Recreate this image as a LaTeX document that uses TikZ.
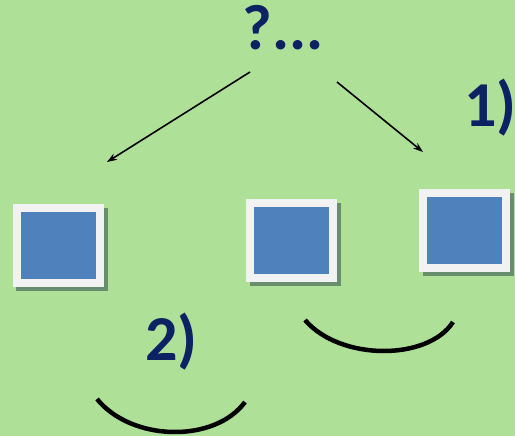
\documentclass[tikz,border=0pt]{standalone}
\usepackage{fontspec}
\setmainfont{Carlito}
\usetikzlibrary{arrows.meta,shadows}
\definecolor{bgc}{RGB}{174,224,152}
\definecolor{navy}{RGB}{12,34,98}
\definecolor{boxblue}{RGB}{79,129,189}
\definecolor{framec}{RGB}{242,242,242}
\definecolor{shadowc}{RGB}{104,142,110}
\tikzset{
  card/.style={rectangle, inner sep=0pt, minimum width=83pt, minimum height=75pt,
    fill=boxblue, draw=framec, line width=8pt,
    drop shadow={shadow scale=1.1, shadow xshift=3.5pt, shadow yshift=-3.5pt, fill=shadowc, opacity=1}},
  lab/.style={text=navy, font=\bfseries\fontsize{64}{64}\selectfont, inner sep=0pt},
  arr/.style={-{Stealth[length=10pt,width=7pt]}, line width=1.6pt, black},
  smile/.style={line width=4.5pt, black}
}
\begin{document}
\begin{tikzpicture}[x=1pt,y=-1pt]
\fill[bgc] (0,0) rectangle (515,436);
\useasboundingbox (0,0) rectangle (515,436);
\node[card] (b1) at (58,245.5) {};
\node[card] (b2) at (291.5,240.5) {};
\node[card] (b3) at (464.5,230.5) {};
\node[lab, anchor=base] (q) at (283,50) {?...};
\node[lab, anchor=base west] (one) at (464,127) {1)};
\node[lab, anchor=base west] (two) at (145,360) {2)};
\coordinate (ls) at (250,72);
\coordinate (le) at (107,162);
\coordinate (rs) at (337,82);
\coordinate (re) at (423,152);
\draw[arr] (ls) -- (le);
\draw[arr] (rs) -- (re);
\coordinate (a1) at (305,320);
\coordinate (a2) at (453,322);
\coordinate (c1) at (97,399);
\coordinate (c2) at (245,402);
\draw[smile] (a1) .. controls (340,361) and (428,361) .. (a2);
\draw[smile] (c1) .. controls (132,442) and (215,443) .. (c2);
\end{tikzpicture}
\end{document}
